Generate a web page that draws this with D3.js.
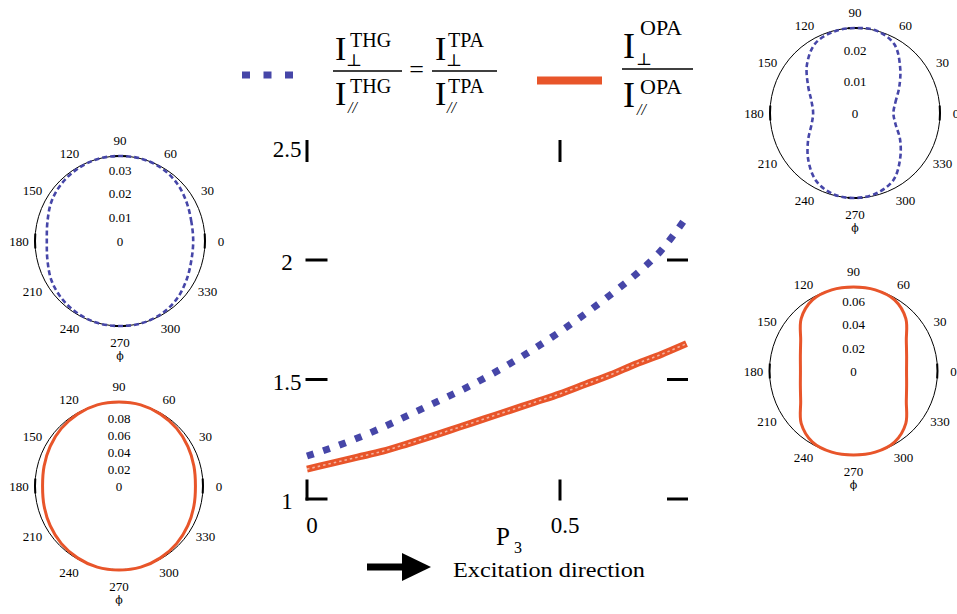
<!DOCTYPE html>
<html>
<head>
<meta charset="utf-8">
<script src="https://cdn.jsdelivr.net/npm/d3@7"></script>
<style>
  html, body { margin: 0; padding: 0; background: #fff; }
  svg { display: block; font-family: "Liberation Serif", "Times New Roman", serif; }
</style>
</head>
<body>
<svg id="viz" width="957" height="614"></svg>
<script>
// main plot: ratio vs P3
const p3 = [0, 0.05, 0.1, 0.15, 0.2, 0.25, 0.3, 0.35, 0.4, 0.45, 0.5, 0.55, 0.6, 0.65, 0.7, 0.75];
const ratioTHG = [1.18, 1.215, 1.255, 1.30, 1.35, 1.40, 1.45, 1.505, 1.565, 1.63, 1.70, 1.775, 1.855, 1.94, 2.04, 2.18];
const ratioOPA = [1.125, 1.15, 1.175, 1.20, 1.232, 1.265, 1.30, 1.335, 1.37, 1.405, 1.44, 1.48, 1.52, 1.565, 1.605, 1.65];
const yTickVals = [1, 1.5, 2];
const yTickLabels = ['1', '1.5', '2', '2.5'];
const yLabelVals = [1, 1.5, 2, 2.5];
const xTickVals = [0, 0.5];
const xTickLabels = ['0', '0.5'];

// polar plots, phi in degrees
const phiDeg = [0, 15, 30, 45, 60, 75, 90, 105, 120, 135, 150, 165, 180, 195, 210, 225, 240, 255, 270, 285, 300, 315, 330, 345];
const polarTHG1 = [0.031, 0.0313, 0.0326, 0.0343, 0.0355, 0.036, 0.036, 0.036, 0.0355, 0.0347, 0.0335, 0.0318, 0.031, 0.0318, 0.0335, 0.0347, 0.0355, 0.036, 0.036, 0.036, 0.0355, 0.0343, 0.0326, 0.0313];
const polarOPA1 = [0.091, 0.0923, 0.0946, 0.097, 0.0988, 0.1, 0.1, 0.1, 0.0988, 0.097, 0.0946, 0.0923, 0.091, 0.0923, 0.0946, 0.097, 0.0988, 0.1, 0.1, 0.1, 0.0988, 0.097, 0.0946, 0.0923];
const polarTHG2 = [0.0122, 0.0133, 0.0162, 0.0203, 0.0251, 0.027, 0.027, 0.0267, 0.0254, 0.0216, 0.0172, 0.0143, 0.0133, 0.0143, 0.0172, 0.021, 0.0248, 0.0267, 0.027, 0.0264, 0.0245, 0.0203, 0.0165, 0.0133];
const polarOPA2 = [0.0461, 0.0478, 0.053, 0.0643, 0.0713, 0.073, 0.073, 0.073, 0.0713, 0.0643, 0.053, 0.0478, 0.0461, 0.0478, 0.053, 0.0643, 0.0713, 0.073, 0.073, 0.073, 0.0713, 0.0643, 0.053, 0.0478];
const angleLabels = [0, 30, 60, 90, 120, 150, 180, 210, 240, 270, 300, 330];
const radTicksTHG1 = [0, 0.01, 0.02, 0.03];
const radTicksOPA1 = [0, 0.02, 0.04, 0.06, 0.08];
const radTicksTHG2 = [0, 0.01, 0.02];
const radTicksOPA2 = [0, 0.02, 0.04, 0.06];

(function () {
  'use strict';

  const svg = d3.select('#viz');
  const blue = '#4646a8';
  const orange = '#e8552a';

  // ---- main chart ----
  const x = d3.scaleLinear().domain([0, 0.75]).range([307, 686.5]);
  const y = d3.scaleLinear().domain([1, 2.5]).range([499, 140.5]);

  const ticks = svg.append('g')
    .attr('stroke', '#000')
    .attr('stroke-width', 3)
    .attr('stroke-linecap', 'square');

  // left and right ticks
  ticks.selectAll('.ltick').data(yTickVals).enter().append('line')
    .attr('x1', x(0)).attr('x2', x(0) + 19)
    .attr('y1', d => y(d)).attr('y2', d => y(d));
  ticks.selectAll('.rtick').data(yTickVals).enter().append('line')
    .attr('x1', x(0.75) - 18).attr('x2', x(0.75))
    .attr('y1', d => y(d)).attr('y2', d => y(d));
  // bottom and top ticks
  ticks.selectAll('.btick').data(xTickVals).enter().append('line')
    .attr('x1', d => x(d)).attr('x2', d => x(d))
    .attr('y1', y(1)).attr('y2', y(1) - 18);
  ticks.selectAll('.ttick').data(xTickVals).enter().append('line')
    .attr('x1', d => x(d)).attr('x2', d => x(d))
    .attr('y1', y(2.5) + 1).attr('y2', y(2.5) + 20);

  svg.selectAll('.ylab').data(yLabelVals).enter().append('text')
    .attr('x', 287)
    .attr('y', d => Math.max(y(d) + 10, 157)) // top label sits lower
    .attr('text-anchor', 'middle')
    .attr('font-size', 23)
    .text((d, i) => yTickLabels[i]);

  svg.selectAll('.xlab').data(xTickVals).enter().append('text')
    .attr('x', d => x(d) + 5)
    .attr('y', 533)
    .attr('text-anchor', 'middle')
    .attr('font-size', 23)
    .text((d, i) => xTickLabels[i]);

  const line = (vals) => d3.line()
    .x((d, i) => x(p3[i]))
    .y(d => y(d))
    .curve(d3.curveMonotoneX)(vals);

  svg.append('path')
    .attr('d', line(ratioOPA))
    .attr('fill', 'none')
    .attr('stroke', orange)
    .attr('stroke-width', 7);
  // the thick line has a light hatch in the picture
  svg.append('path')
    .attr('d', line(ratioOPA))
    .attr('fill', 'none')
    .attr('stroke', '#fff')
    .attr('stroke-opacity', 0.55)
    .attr('stroke-width', 1.6)
    .attr('stroke-dasharray', '2.5 3');

  svg.append('path')
    .attr('d', line(ratioTHG))
    .attr('fill', 'none')
    .attr('stroke', blue)
    .attr('stroke-width', 7)
    .attr('stroke-dasharray', '7 10');

  // ---- polar plots ----
  const panels = [
    { cx: 120, cy: 241, R: 85, rMax: 0.036, vals: polarTHG1, ticks: radTicksTHG1, color: blue, dash: '5 3' },
    { cx: 119, cy: 486, R: 84, rMax: 0.1, vals: polarOPA1, ticks: radTicksOPA1, color: orange, dash: null },
    { cx: 855, cy: 113, R: 85, rMax: 0.027, vals: polarTHG2, ticks: radTicksTHG2, color: blue, dash: '5 3' },
    { cx: 853.5, cy: 371, R: 84, rMax: 0.073, vals: polarOPA2, ticks: radTicksOPA2, color: orange, dash: null }
  ];

  panels.forEach(p => {
    const g = svg.append('g').attr('transform', `translate(${p.cx},${p.cy})`);
    const r = d3.scaleLinear().domain([0, p.rMax]).range([0, p.R]);

    g.append('circle')
      .attr('r', p.R)
      .attr('fill', 'none')
      .attr('stroke', '#000')
      .attr('stroke-width', 1);

    // darker marks on the rim at the axes
    const rim = d3.arc().innerRadius(p.R - 1).outerRadius(p.R + 1);
    g.selectAll('.rim').data([0, 90, 180, 270]).enter().append('path')
      .attr('d', d => rim({ startAngle: (90 - d - 5) * Math.PI / 180, endAngle: (90 - d + 5) * Math.PI / 180 }))
      .attr('fill', '#000');

    g.selectAll('.alab').data(angleLabels).enter().append('text')
      .attr('x', d => (p.R + 16) * Math.cos(d * Math.PI / 180))
      .attr('y', d => -(p.R + 16) * Math.sin(d * Math.PI / 180))
      .attr('text-anchor', 'middle')
      .attr('dominant-baseline', 'central')
      .attr('font-size', 13)
      .text(d => d);

    g.selectAll('.rlab').data(p.ticks).enter().append('text')
      .attr('x', 0)
      .attr('y', d => -r(d))
      .attr('text-anchor', 'middle')
      .attr('dominant-baseline', 'central')
      .attr('font-size', 13)
      .text(d => d);

    g.append('text')
      .attr('x', 0)
      .attr('y', p.R + 30)
      .attr('text-anchor', 'middle')
      .attr('dominant-baseline', 'central')
      .attr('font-family', '"DejaVu Serif", serif')
      .attr('font-size', 11)
      .attr('fill', '#000')
      .text('\u03D5');

    const radial = d3.lineRadial()
      .angle((d, i) => (90 - phiDeg[i]) * Math.PI / 180)
      .radius(d => r(d))
      .curve(d3.curveCatmullRomClosed);

    g.append('path')
      .attr('d', radial(p.vals))
      .attr('fill', 'none')
      .attr('stroke', p.color)
      .attr('stroke-width', p.dash ? 2.6 : 3)
      .attr('stroke-dasharray', p.dash);
  });

  // ---- legend formulas ----
  const txt = (xx, yy, s, size, extra) => {
    const t = svg.append('text').attr('x', xx).attr('y', yy).attr('font-size', size).text(s);
    if (extra) Object.keys(extra).forEach(k => t.attr(k, extra[k]));
    return t;
  };
  const bar = (x1, x2, yy) => svg.append('line')
    .attr('x1', x1).attr('x2', x2).attr('y1', yy).attr('y2', yy)
    .attr('stroke', '#000').attr('stroke-width', 1.5);
  const perp = { 'font-family': '"DejaVu Serif", serif' };
  const par = { 'font-style': 'italic' };

  svg.append('line')
    .attr('x1', 242).attr('x2', 294).attr('y1', 75).attr('y2', 75)
    .attr('stroke', blue).attr('stroke-width', 7)
    .attr('stroke-dasharray', '8 13.5');

  svg.append('line')
    .attr('x1', 537).attr('x2', 602).attr('y1', 80.5).attr('y2', 80.5)
    .attr('stroke', orange).attr('stroke-width', 8);

  // I_perp^THG / I_par^THG
  txt(335, 60, 'I', 34); txt(350, 47, 'THG', 20); txt(346, 66, '\u22A5', 17, perp);
  bar(333, 402, 71);
  txt(335, 105, 'I', 34); txt(350, 93, 'THG', 20); txt(348, 113, '//', 16, par);

  txt(416.5, 78, '=', 26, { 'text-anchor': 'middle' });

  // I_perp^TPA / I_par^TPA
  txt(435, 60, 'I', 34); txt(448, 47, 'TPA', 20); txt(446, 66, '\u22A5', 17, perp);
  bar(432, 497, 71);
  txt(435, 105, 'I', 34); txt(448, 93, 'TPA', 20); txt(447, 113, '//', 16, par);

  // I_perp^OPA / I_par^OPA
  txt(623, 58, 'I', 36); txt(640, 35, 'OPA', 22); txt(636, 65, '\u22A5', 17, perp);
  bar(622, 693, 69);
  txt(623, 107, 'I', 36); txt(640, 94, 'OPA', 22); txt(637, 115, '//', 16, par);

  // ---- x label and excitation arrow ----
  txt(496, 545, 'P', 25);
  txt(514, 553, '3', 16);

  svg.append('rect')
    .attr('x', 367).attr('y', 563.5).attr('width', 37).attr('height', 7)
    .attr('fill', '#000');
  svg.append('path')
    .attr('d', 'M402,553 L431,567 L402,581 Z')
    .attr('fill', '#000');

  txt(453, 577, 'Excitation direction', 22, { textLength: 192, lengthAdjust: 'spacingAndGlyphs' });
}());
</script>
</body>
</html>
